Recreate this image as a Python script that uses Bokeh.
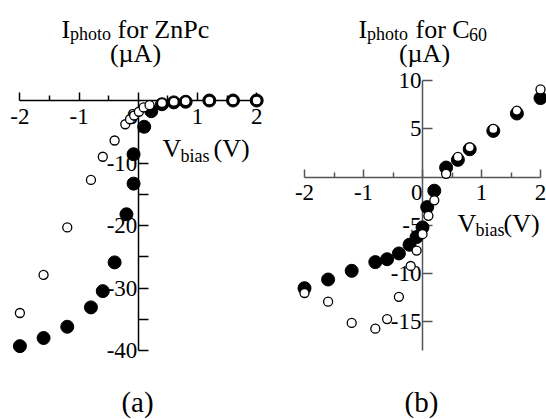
from bokeh.plotting import figure
from bokeh.models import Range1d, LinearAxis, FixedTicker, Label
from bokeh.layouts import row
from bokeh.embed import file_html
from bokeh.resources import INLINE

# ---------------- data ----------------
# (a) ZnPc photocurrent (uA) vs bias (V)
zn_filled_v = [-2.0, -1.6, -1.2, -0.8, -0.6, -0.4, -0.2, -0.08, -0.08, 0.1, 0.22, 0.4, 0.6, 0.8, 1.2, 1.6, 2.0]
zn_filled_i = [-39.3, -38.0, -36.2, -33.1, -30.5, -25.9, -18.2, -13.3, -8.6, -4.2, -1.7, -0.6, -0.3, -0.2, 0.0, 0.0, 0.0]
zn_open_v = [-2.0, -1.6, -1.2, -0.8, -0.6, -0.4, -0.22, -0.14, -0.07, 0.01, 0.09, 0.19, 0.4, 0.6, 0.8, 1.2, 1.6, 2.0]
zn_open_i = [-34.0, -27.9, -20.3, -12.7, -9.0, -6.4, -3.8, -3.0, -2.4, -1.8, -1.1, -0.75, -0.4, -0.2, -0.1, 0.0, 0.0, 0.0]

# (b) C60 photocurrent (uA) vs bias (V)
c60_filled_v = [-2.0, -1.6, -1.2, -0.8, -0.6, -0.4, -0.22, -0.1, 0.0, 0.08, 0.2, 0.4, 0.6, 0.8, 1.2, 1.6, 2.0]
c60_filled_i = [-11.5, -10.6, -9.7, -8.8, -8.5, -7.9, -7.0, -6.2, -5.2, -3.1, -1.4, 1.0, 1.8, 2.9, 4.8, 6.6, 8.2]
c60_open_v = [-2.0, -1.6, -1.2, -0.8, -0.6, -0.4, -0.2, -0.1, 0.0, 0.1, 0.2, 0.4, 0.6, 0.8, 1.2, 1.6, 2.0]
c60_open_i = [-12.0, -12.9, -15.1, -15.7, -14.7, -12.4, -9.2, -7.6, -5.9, -4.0, -2.4, 0.35, 2.1, 3.1, 5.0, 6.9, 9.1]

x_ticks = [-2, -1, 0, 1, 2]
x_minor = [-1.5, -0.5, 0.5, 1.5]
x_tick_labels = ["-2", "-1", "0\u2007", "1", "2"]
a_y_ticks = [-40, -30, -20, -10]
a_y_minor = [-35, -25, -15, -5]
a_y_tick_labels = ["-40", "-30", "-20", "-10"]
b_y_ticks = [-15, -10, -5, 5, 10]
b_y_tick_labels = ["-15", "-10", "-5", "5", "10"]

W, H = 273, 419
SERIF = "Liberation Serif"


def make_panel(left, x0, xs, y0, ys, axis_color, ybounds, yticks, yminor, ylabels, ytick_len):
    # left: page x of panel; (x0, y0) page pixel of data origin; xs, ys: px per unit
    top = 0
    xr = Range1d((left - x0) / xs, (left + W - x0) / xs)
    yr = Range1d((y0 - (top + H)) / ys, (y0 - top) / ys)
    p = figure(width=W, height=H, x_range=xr, y_range=yr, output_backend="svg",
               toolbar_location=None, x_axis_type=None, y_axis_type=None, min_border=0)
    p.outline_line_color = None
    p.background_fill_color = "white"
    p.border_fill_color = "white"

    xax = LinearAxis(fixed_location=0, bounds=(-2, 2),
                     ticker=FixedTicker(ticks=x_ticks, minor_ticks=x_minor),
                     major_label_overrides={t: s for t, s in zip(x_ticks, x_tick_labels)})
    yax = LinearAxis(fixed_location=0, bounds=ybounds,
                     ticker=FixedTicker(ticks=yticks, minor_ticks=yminor),
                     major_label_overrides={t: s for t, s in zip(yticks, ylabels)})
    for ax, tin, mtin, so in ((xax, 8, 5, 3), (yax, ytick_len, ytick_len, 1)):
        ax.axis_line_color = axis_color
        ax.axis_line_width = 1.5
        ax.major_tick_line_color = axis_color
        ax.minor_tick_line_color = axis_color
        ax.major_tick_line_width = 1.5
        ax.minor_tick_line_width = 1.5
        ax.major_tick_in = tin
        ax.major_tick_out = 0
        ax.minor_tick_in = mtin
        ax.minor_tick_out = 0
        ax.major_label_standoff = so
        ax.major_label_text_font = SERIF
        ax.major_label_text_font_size = "23px"
        ax.major_label_text_color = "black"
    p.add_layout(xax, "below")
    p.add_layout(yax, "left")

    def lab(text, px, py, size, align="left"):
        p.add_layout(Label(x=(px - x0) / xs, y=(y0 - py) / ys, text=text,
                           text_font=SERIF, text_font_size=size, text_color="black",
                           text_align=align, text_baseline="alphabetic"))
    return p, lab


# ---------------- panel (a) ----------------
pa, la = make_panel(0, 137.8, 59.2, 100.0, 6.25, "black", (-40, 0),
                    a_y_ticks, a_y_minor, a_y_tick_labels, 10)
pa.scatter(zn_filled_v, zn_filled_i, size=13, marker="circle",
           fill_color="black", line_color="black", level="overlay")
pa.scatter(zn_open_v, zn_open_i, size=9, marker="circle",
           fill_color="white", line_color="black", line_width=1.3, level="overlay")
la("I", 61, 28.5, "26px")
la("photo", 69.5, 33.5, "18px")
la("for ZnPc", 117, 28.5, "26px")
la("(\u00b5A)", 135, 53, "26px", "center")
la("V", 162, 148, "26px")
la("bias", 180, 155, "18px")
la("(V)", 213, 148, "26px")
la("(a)", 137, 401, "29px", "center")

# ---------------- panel (b) ----------------
pb, lb = make_panel(273, 422.0, 59.0, 176.7, 9.65, "#555555", (-18, 10),
                    b_y_ticks, [], b_y_tick_labels, 10)
pb.scatter(c60_filled_v, c60_filled_i, size=13, marker="circle",
           fill_color="black", line_color="black", level="overlay")
pb.scatter(c60_open_v, c60_open_i, size=9, marker="circle",
           fill_color="white", line_color="black", line_width=1.3, level="overlay")
lb("I", 358, 28.5, "26px")
lb("photo", 366.5, 33.5, "18px")
lb("for C", 415, 28.5, "26px")
lb("60", 468.5, 33.5, "18px")
lb("(\u00b5A)", 424, 53, "26px", "center")
lb("V", 457, 223, "26px")
lb("bias", 475, 229.5, "18px")
lb("(V)", 503, 223, "26px")
lb("(b)", 421, 401, "29px", "center")

layout = row(pa, pb)
open("out.html", "w").write(file_html(layout, INLINE))
